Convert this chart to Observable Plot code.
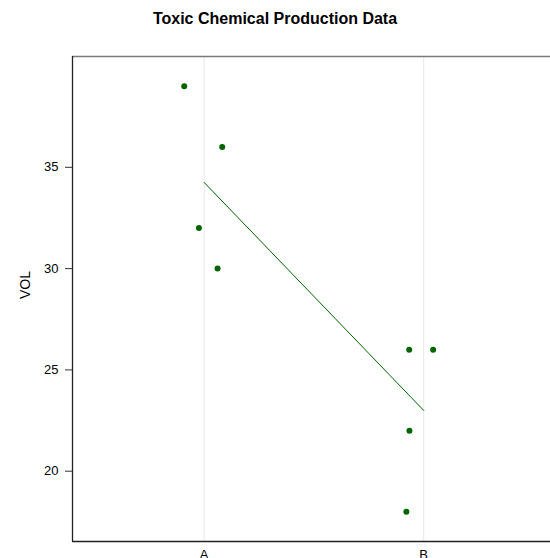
<!DOCTYPE html>
<html>
<head>
<meta charset="utf-8">
<script src="https://cdn.jsdelivr.net/npm/d3@7"></script>
<script src="https://cdn.jsdelivr.net/npm/@observablehq/plot@0.6"></script>
<style>
  body { margin: 0; background: #fff; font-family: "Liberation Sans", Arial, sans-serif; }
  #title { height: 40px; line-height: 38px; text-align: center; font-weight: bold; font-size: 16px; color: #000; }
  #chart svg { display: block; }
</style>
</head>
<body>
<div id="title">Toxic Chemical Production Data</div>
<div id="chart"></div>
<script>
// Data
const categories = ["A", "B"];
const group  = ["A", "A", "A", "A", "B", "B", "B", "B"];
const vol    = [39, 36, 32, 30, 26, 26, 22, 18];
const jitter = [-0.091, 0.082, -0.024, 0.061, -0.066, 0.043, -0.065, -0.079];
const yTicks = [20, 25, 30, 35];

const pts = group.map((g, i) => ({ g, x: categories.indexOf(g) + 1 + jitter[i], y: vol[i] }));
const means = categories.map((c, i) => ({ x: i + 1, y: d3.mean(vol.filter((v, j) => group[j] === c)) }));

const ymin = d3.min(vol), ymax = d3.max(vol), pad = (ymax - ymin) * 0.07;
const yDom = [ymin - pad, ymax + pad];
const xDom = [0.4, categories.length + 0.6];

const chart = Plot.plot({
  width: 550,
  height: 518,
  marginTop: 16,
  marginBottom: 17,
  marginLeft: 72,
  marginRight: 0,
  style: { fontFamily: "Liberation Sans, Arial, sans-serif", fontSize: "13px", color: "#000", background: "#fff" },
  x: { type: "linear", domain: xDom, range: [72, 72 + (xDom[1] - xDom[0]) * 219.5], axis: null },
  y: { domain: yDom, axis: null },
  marks: [
    Plot.ruleX(categories.map((c, i) => i + 1), { stroke: "#e8e8e8", strokeWidth: 1 }),
    Plot.line(means, { x: "x", y: "y", stroke: "#006400", strokeWidth: 1 }),
    Plot.dot(pts, { x: "x", y: "y", r: 3, fill: "#006400", stroke: "none" }),
    Plot.ruleY([yDom[1]], { stroke: "#7a7a7a", strokeWidth: 1.3 }),
    Plot.ruleY([yDom[0]], { stroke: "#222", strokeWidth: 1.3 }),
    Plot.ruleX([xDom[0]], { stroke: "#222", strokeWidth: 1.3 }),
    Plot.axisY({ ticks: yTicks, tickSize: 7, tickPadding: 7, stroke: "#333", label: null, fontSize: 13 }),
    Plot.text(["VOL"], { frameAnchor: "left", dx: -47, rotate: -90, fontSize: 14, fill: "#000" }),
    Plot.axisX({ ticks: categories.map((c, i) => i + 1), tickFormat: d => categories[d - 1], tickSize: 0, tickPadding: 8, label: null, fontSize: 13 })
  ]
});
document.getElementById("chart").appendChild(chart);
</script>
</body>
</html>
